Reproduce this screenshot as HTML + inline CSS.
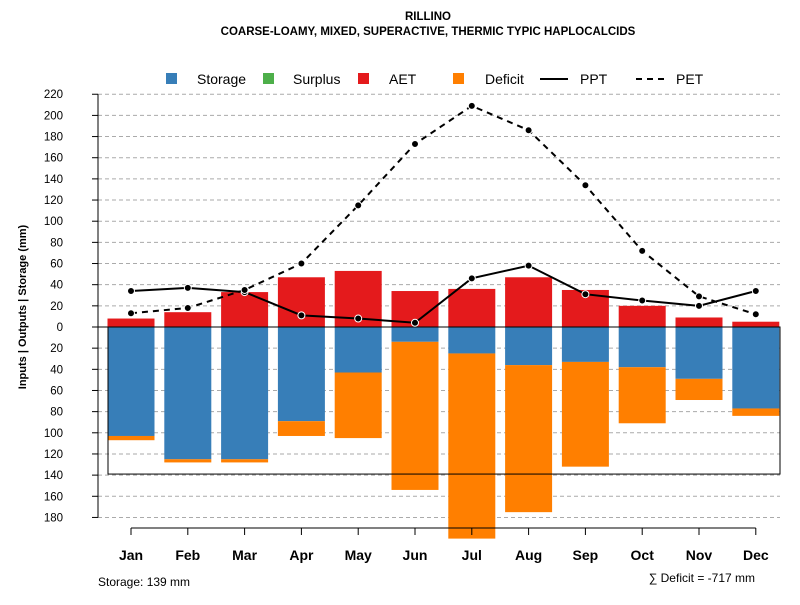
<!DOCTYPE html>
<html><head><meta charset="utf-8"><style>
body{margin:0;background:#fff}
svg{font-family:"Liberation Sans",Arial,sans-serif}
</style></head><body>
<svg id="c" width="800" height="600" xmlns="http://www.w3.org/2000/svg">
<text x="428" y="20" text-anchor="middle" font-size="11.5" font-weight="bold">RILLINO</text>
<text x="428" y="35" text-anchor="middle" font-size="11.5" font-weight="bold">COARSE-LOAMY, MIXED, SUPERACTIVE, THERMIC TYPIC HAPLOCALCIDS</text>
<g id="grid"></g><g id="bars"></g><g id="lines"></g><g id="axes"></g>
<g font-size="14">
<rect x="166" y="73" width="11" height="11" fill="#377eb8"/><text x="197" y="84">Storage</text>
<rect x="263" y="73" width="11" height="11" fill="#4daf4a"/><text x="293" y="84">Surplus</text>
<rect x="358" y="73" width="11" height="11" fill="#e41a1c"/><text x="389" y="84">AET</text>
<rect x="453" y="73" width="11" height="11" fill="#ff7f00"/><text x="485" y="84">Deficit</text>
<line x1="540" y1="79" x2="568" y2="79" stroke="#000" stroke-width="2"/><text x="580" y="84">PPT</text>
<line x1="636" y1="79" x2="666" y2="79" stroke="#000" stroke-width="2" stroke-dasharray="6,5"/><text x="676" y="84">PET</text>
</g>
<text x="26" y="307" transform="rotate(-90 26 307)" text-anchor="middle" font-size="11" font-weight="bold">Inputs | Outputs | Storage    (mm)</text>
<text x="98" y="586" font-size="12">Storage: 139 mm</text>
<text x="755" y="582" text-anchor="end" font-size="12">∑ Deficit = -717 mm</text>
</svg>
<script>
const months=["Jan","Feb","Mar","Apr","May","Jun","Jul","Aug","Sep","Oct","Nov","Dec"];
const aet=[8,14,33,47,53,34,36,47,35,20,9,5];
const storage=[103,125,125,89,43,14,25,36,33,38,49,77];
const deficit=[4,3,3,14,62,140,175,139,99,53,20,7];
const ppt=[34,37,33,11,8,4,46,58,31,25,20,34];
const pet=[13,18,35,60,115,173,209,186,134,72,29,12];
const yTicks=[220,200,180,160,140,120,100,80,60,40,20,0,-20,-40,-60,-80,-100,-120,-140,-160,-180];
const maxStorage=139;
const NS="http://www.w3.org/2000/svg";
const Y0=327,K=1.058;
const y=v=>Y0-v*K;
const x=i=>131+i*56.8;
const BW=47;
function mk(p,t,a){const e=document.createElementNS(NS,t);for(const k in a)e.setAttribute(k,a[k]);document.getElementById(p).appendChild(e);return e;}
yTicks.forEach(t=>{
 if(t!==0){const g=mk("grid","line",{x1:98,x2:780,y1:y(t),y2:y(t),stroke:"#aaa","stroke-dasharray":"4,3"});
 
 }
 const tk=mk("axes","line",{x1:92,x2:98,y1:y(t),y2:y(t),stroke:"#000"});
 
 
 const l=mk("axes","text",{x:63,y:y(t)+4,"text-anchor":"end","font-size":11.5});
 l.textContent=Math.abs(t);
 
 
});
const ax=mk("axes","line",{x1:98,x2:98,y1:y(220),y2:y(-180),stroke:"#000"});


months.forEach((m,i)=>{
 const a=mk("bars","rect",{x:x(i)-BW/2,y:y(aet[i]),width:BW,height:aet[i]*K,fill:"#e41a1c"});
 
 
 const s=mk("bars","rect",{x:x(i)-BW/2,y:Y0,width:BW,height:storage[i]*K,fill:"#377eb8"});
 
 
 const d=mk("bars","rect",{x:x(i)-BW/2,y:y(-storage[i]),width:BW,height:deficit[i]*K,fill:"#ff7f00"});
 
 
 const tk=mk("axes","line",{x1:x(i),x2:x(i),y1:528,y2:535,stroke:"#000"});
 
 
 const l=mk("axes","text",{x:x(i),y:560,"text-anchor":"middle","font-size":14,"font-weight":"bold"});
 l.textContent=m;
 
 
});
const xa=mk("axes","line",{x1:x(0),x2:x(11),y1:528,y2:528,stroke:"#000"});


const box=mk("bars","rect",{x:108,y:Y0,width:672,height:maxStorage*K,fill:"none",stroke:"#000"});


const zl=mk("bars","line",{x1:98,x2:780,y1:Y0,y2:Y0,stroke:"#000"});


[[ppt,"ppt",null],[pet,"pet","6,5"]].forEach(([arr,n,da])=>{
 const p=mk("lines","polyline",{points:arr.map((v,i)=>x(i)+","+y(v)).join(" "),fill:"none",stroke:"#000","stroke-width":2});
 if(da)p.setAttribute("stroke-dasharray",da);
 
 
 arr.forEach((v,i)=>{const c=mk("lines","circle",{cx:x(i),cy:y(v),r:3.5,fill:"#000",stroke:"#fff","stroke-width":1});
 
 });
});
</script>
</body></html>
